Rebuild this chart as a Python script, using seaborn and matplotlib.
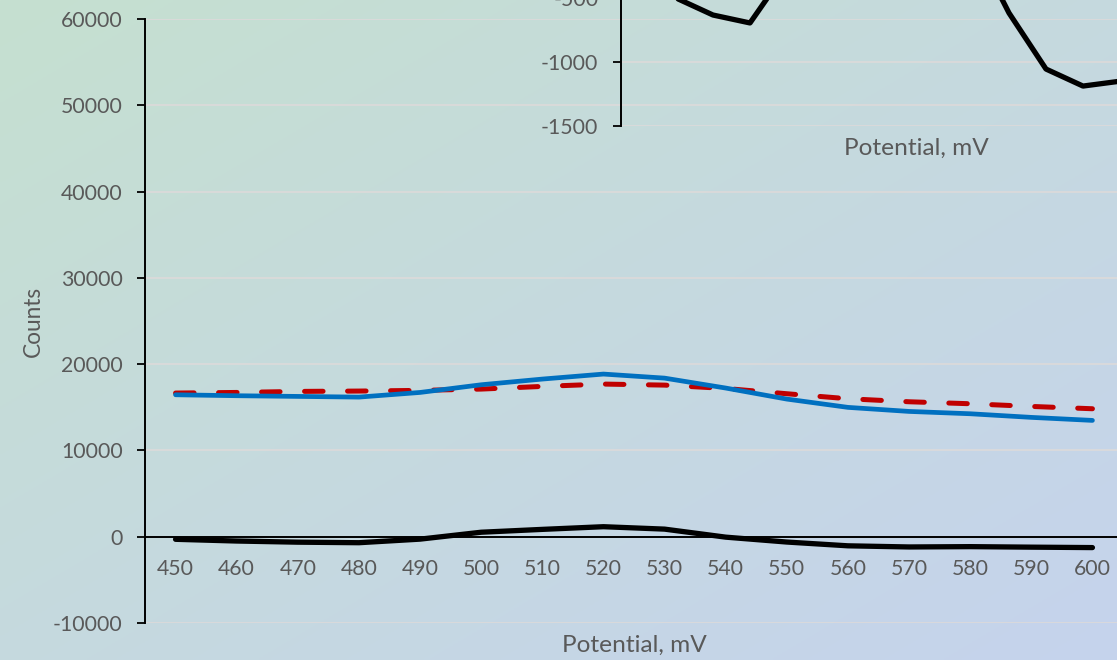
import numpy as np
import pandas as pd
import matplotlib
matplotlib.use("Agg")
import matplotlib.pyplot as plt
import seaborn as sns

# Potential steps (mV) and measured counts
potential = [450, 460, 470, 480, 490, 500, 510, 520, 530, 540, 550, 560, 570, 580, 590, 600]
counts_sample = [16450, 16340, 16260, 16180, 16720, 17610, 18270, 18850,
                 18380, 17230, 15950, 14990, 14520, 14250, 13830, 13480]
counts_reference = [16650, 16720, 16840, 16880, 16960, 17110, 17420, 17690,
                    17570, 17180, 16570, 15990, 15640, 15410, 15100, 14830]
counts_difference = [-300, -500, -633, -695, -280, 520, 850, 1160,
                     880, -50, -617, -1055, -1188, -1150, -1210, -1260]

main_yticks = [-10000, 0, 10000, 20000, 30000, 40000, 50000, 60000]
inset_yticks = [-1500, -1000, -500, 0, 500, 1000, 1500]

df = pd.DataFrame({
    "Potential": [str(p) for p in potential],
    "sample": counts_sample,
    "reference": counts_reference,
    "difference": counts_difference,
})

sns.set_theme(style="white")
plt.rcParams["font.family"] = ["Lato", "DejaVu Sans"]

TEXT = "#595959"
GRID = "#dddada"
BLUE = "#0070C0"
RED = "#C00000"
TICK_FS = 15.3
TITLE_FS = 17.6

W, H = 1117, 660
fig = plt.figure(figsize=(W / 100, H / 100), dpi=100)

# diagonal green-to-blue backdrop
bg = fig.add_axes([0, 0, 1, 1], zorder=-10)
gx, gy = np.meshgrid(np.linspace(0, 1, 400), np.linspace(0, 1, 240))
t = (gx + gy) / 2.0
c0 = np.array([198, 224, 208]) / 255.0
c1 = np.array([197, 211, 237]) / 255.0
grad = c0[None, None, :] * (1 - t[..., None]) + c1[None, None, :] * t[..., None]
bg.imshow(grad, aspect="auto", extent=[0, 1, 0, 1], origin="upper")
bg.set_axis_off()

def style_axes(ax, yticks, ylim):
    ax.set_facecolor("none")
    n = len(potential)
    ax.set_xlim(-0.5, n - 0.5)
    ax.set_ylim(*ylim)
    ax.set_yticks(yticks)
    ax.set_yticklabels([str(v) for v in yticks])
    ax.yaxis.grid(True, color=GRID, linewidth=1.2, zorder=0)
    ax.xaxis.grid(False)
    for s in ("top", "right"):
        ax.spines[s].set_visible(False)
    ax.spines["left"].set_color("black")
    ax.spines["left"].set_linewidth(1.4)
    ax.spines["bottom"].set_position(("data", 0))
    ax.spines["bottom"].set_color("black")
    ax.spines["bottom"].set_linewidth(1.4)
    ax.set_xticks(range(n))
    ax.set_xticklabels([str(p) for p in potential])
    ax.set_xticks(np.arange(-0.5, n, 1.0), minor=True)
    ax.tick_params(axis="x", which="major", length=0, pad=16,
                   labelsize=TICK_FS, labelcolor=TEXT)
    ax.tick_params(axis="x", which="minor", length=5, width=1.3,
                   color="black", direction="out")
    ax.tick_params(axis="y", length=6, width=1.3, color="black",
                   direction="out", pad=10, labelsize=TICK_FS, labelcolor=TEXT, left=True)
    ax.set_xlabel("")
    ax.set_ylabel("")

# main chart
ax_bottom, ax_top = 623, 19
ax = fig.add_axes([145 / W, 1 - ax_bottom / H, (1123 - 145) / W, (ax_bottom - ax_top) / H])
sns.lineplot(data=df, x="Potential", y="reference", ax=ax, sort=False,
             color=RED, linewidth=3.6, linestyle=(0, (3.7, 4.9)),
             dash_capstyle="round", zorder=3)
sns.lineplot(data=df, x="Potential", y="sample", ax=ax, sort=False,
             color=BLUE, linewidth=3.4, solid_capstyle="round", zorder=4)
sns.lineplot(data=df, x="Potential", y="difference", ax=ax, sort=False,
             color="black", linewidth=3.8, solid_capstyle="round", zorder=5)
style_axes(ax, main_yticks, (-10000, 60000))
ax.text(0.5, -(645 - ax_bottom) / (ax_bottom - ax_top), "Potential, mV",
        transform=ax.transAxes, ha="center", va="center",
        fontsize=TITLE_FS, color=TEXT)
fig.text(33 / W, 1 - 321 / H, "Counts", rotation=90, ha="center", va="center",
         fontsize=16.3, color=TEXT)

# zoomed view of the difference
pix_per_unit = 64 / 500
inset_bottom = 126
inset_top = inset_bottom - (1500 - (-1500)) * pix_per_unit
ins = fig.add_axes([620.5 / W, 1 - inset_bottom / H, (1212.5 - 620.5) / W,
                    (inset_bottom - inset_top) / H], zorder=5)
sns.lineplot(data=df, x="Potential", y="difference", ax=ins, sort=False,
             color="black", linewidth=3.8, solid_capstyle="round", zorder=5)
style_axes(ins, inset_yticks, (-1500, 1500))
ins.text(0.5, -(148 - inset_bottom) / (inset_bottom - inset_top), "Potential, mV",
         transform=ins.transAxes, ha="center", va="center",
         fontsize=TITLE_FS, color=TEXT)

fig.savefig("out.png", dpi=100)
